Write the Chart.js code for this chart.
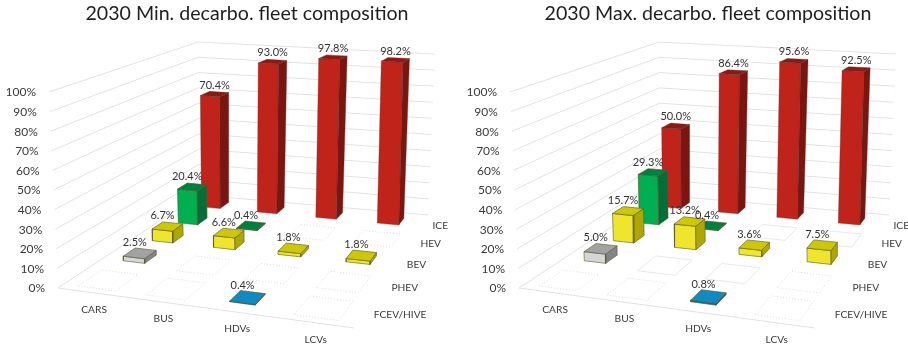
<!DOCTYPE html>
<html>
<head>
<meta charset="utf-8">
<script src="https://cdn.jsdelivr.net/npm/chart.js@4"></script>
<style>
  body { margin: 0; background: #fff; }
  canvas { position: absolute; top: 0; }
</style>
</head>
<body>
<canvas id="minChart" width="461" height="344" style="left:0"></canvas>
<canvas id="maxChart" width="447" height="344" style="left:461px"></canvas>
<script>
const categories = ['CARS', 'BUS', 'HDVs', 'LCVs'];
const seriesNames = ['FCEV/HIVE', 'PHEV', 'BEV', 'HEV', 'ICE'];
const yTicks = [0, 10, 20, 30, 40, 50, 60, 70, 80, 90, 100];

const minFcev = [0, 0, 0.4, 0];
const minPhev = [2.5, 0, 0, 0];
const minBev = [6.7, 6.6, 1.8, 1.8];
const minHev = [20.4, 0.4, 0, 0];
const minIce = [70.4, 93.0, 97.8, 98.2];

const maxFcev = [0, 0, 0.8, 0];
const maxPhev = [5.0, 0, 0, 0];
const maxBev = [15.7, 13.2, 3.6, 7.5];
const maxHev = [29.3, 0.4, 0, 0];
const maxIce = [50.0, 86.4, 95.6, 92.5];

// front, side, top
const palette = [
  ['#0a6f9f', '#075a80', '#0f8bc4'],
  ['#d6d6d6', '#858585', '#a2a2a2'],
  ['#eee52c', '#aea700', '#cdc800'],
  ['#00b050', '#006f38', '#00803f'],
  ['#c0231a', '#7c150f', '#8c1a12']
];

// the view: where the floor and the 100% plane land (front-left, front-right, back-right, back-left)
const floorQuad = [[58, 288], [354, 328], [428, 215], [199, 195]];
const topQuad = [[49, 92], [342, 112], [435, 54], [198, 42]];

function quadMap(q) {
  const [[x0, y0], [x1, y1], [x2, y2], [x3, y3]] = q;
  const dx1 = x1 - x2, dx2 = x3 - x2, sx = x0 - x1 + x2 - x3;
  const dy1 = y1 - y2, dy2 = y3 - y2, sy = y0 - y1 + y2 - y3;
  const den = dx1 * dy2 - dx2 * dy1;
  const g = (sx * dy2 - dx2 * sy) / den;
  const h = (dx1 * sy - sx * dy1) / den;
  const a = x1 - x0 + g * x1, b = x3 - x0 + h * x3;
  const d = y1 - y0 + g * y1, e = y3 - y0 + h * y3;
  return (u, v) => {
    const w = g * u + h * v + 1;
    return [(a * u + b * v + x0) / w, (d * u + e * v + y0) / w];
  };
}

const floorAt = quadMap(floorQuad);
const topAt = quadMap(topQuad);

function project(u, v, value) {
  const p = floorAt(u, v), t = topAt(u, v);
  const k = value / 100;
  return { x: p[0] + (t[0] - p[0]) * k, y: p[1] + (t[1] - p[1]) * k };
}

function poly(points, opts) {
  return Object.assign({
    data: points.concat([points[0]]),
    showLine: true,
    pointRadius: 0,
    tension: 0,
    clip: false,
    borderWidth: 0.6
  }, opts);
}

const barW = 0.34, barD = 0.4;
const cellW = 0.56, cellD = 0.68;

function buildDatasets(rows, solidCells) {
  const out = [];
  const nc = categories.length, nr = seriesNames.length;

  // walls
  yTicks.forEach((t) => {
    out.push({
      data: [project(0, 0, t), project(0, 1, t), project(1, 1, t)],
      showLine: true, pointRadius: 0, clip: false, borderWidth: 1, borderColor: '#e2e2e2'
    });
  });
  out.push({
    data: [project(0, 0, 0), project(1, 0, 0)],
    showLine: true, pointRadius: 0, clip: false, borderWidth: 1, borderColor: '#e2e2e2'
  });

  // back row first so nearer bars cover it
  for (let r = nr - 1; r >= 0; r--) {
    for (let c = 0; c < nc; c++) {
      const val = rows[r][c];
      const cu = (c + 0.5) / nc, cv = (r + 0.5) / nr;
      if (val === 0) {
        const hu = cellW / nc / 2, hv = cellD / nr / 2;
        const solid = solidCells.some((s) => s[0] === c && s[1] === r);
        out.push(poly([
          project(cu - hu, cv - hv, 0), project(cu + hu, cv - hv, 0),
          project(cu + hu, cv + hv, 0), project(cu - hu, cv + hv, 0)
        ], {
          borderColor: solid ? '#e8e8e8' : '#dedede',
          borderDash: solid ? [] : [1, 2],
          borderWidth: 1
        }));
        continue;
      }
      const hu = barW / nc / 2, hv = barD / nr / 2;
      const u0 = cu - hu, u1 = cu + hu, v0 = cv - hv, v1 = cv + hv;
      const [front, side, top] = palette[r];
      const edge = r === 4 ? 'rgba(90,50,50,0.6)' : '#55552f';
      out.push(poly([project(u0, v0, 0), project(u1, v0, 0), project(u1, v0, val), project(u0, v0, val)],
        { fill: 'shape', backgroundColor: front, borderColor: edge }));
      out.push(poly([project(u1, v0, 0), project(u1, v1, 0), project(u1, v1, val), project(u1, v0, val)],
        { fill: 'shape', backgroundColor: side, borderColor: edge }));
      out.push(poly([project(u0, v0, val), project(u1, v0, val), project(u1, v1, val), project(u0, v1, val)],
        { fill: 'shape', backgroundColor: top, borderColor: edge }));
    }
  }
  return out.reverse(); // chart.js paints the last dataset first
}

const textPlugin = {
  id: 'textPlugin',
  afterDatasetsDraw(chart, args, opts) {
    const ctx = chart.ctx;
    const px = (p) => [chart.scales.x.getPixelForValue(p.x), chart.scales.y.getPixelForValue(p.y)];
    const nc = categories.length, nr = seriesNames.length;
    ctx.save();
    ctx.textBaseline = 'middle';
    ctx.fillStyle = '#3a3a3a';

    ctx.font = '12px Lato';
    ctx.textAlign = 'right';
    yTicks.forEach((t) => {
      const [x, y] = px(project(0, 0, t));
      ctx.fillText(t + '%', x - 13, y + 0.5);
    });

    ctx.font = '10.2px Lato';
    ctx.textAlign = 'center';
    categories.forEach((name, c) => {
      const [x, y] = px(project((c + 0.5) / nc, 0, 0));
      ctx.fillText(name, x + 3, y + 17);
    });

    ctx.textAlign = 'left';
    seriesNames.forEach((name, r) => {
      const [x, y] = px(project(1, (r + 0.5) / nr, 0));
      ctx.fillText(name, x + 10, y + 2);
    });

    ctx.font = '11px Lato';
    ctx.textAlign = 'center';
    ctx.fillStyle = '#333333';
    opts.rows.forEach((row, r) => {
      row.forEach((val, c) => {
        if (val === 0) return;
        const cu = (c + 0.5) / nc, cv = (r + 0.5) / nr;
        const x = px(project(cu, cv, val))[0];
        const y = px(project(cu, cv + barD / nr / 2, val))[1];
        ctx.fillText(val.toFixed(1) + '%', x - (r === 4 ? 0 : 5), y - 7);
      });
    });
    ctx.restore();
  }
};

function makeChart(id, title, rows, solidCells, padLeft) {
  const canvas = document.getElementById(id);
  return new Chart(canvas, {
    type: 'scatter',
    data: { datasets: buildDatasets(rows, solidCells) },
    plugins: [textPlugin],
    options: {
      responsive: false,
      animation: false,
      events: [],
      layout: { padding: { left: padLeft } },
      scales: {
        x: { type: 'linear', display: false, min: padLeft, max: canvas.width },
        y: { type: 'linear', display: false, min: 26, max: canvas.height, reverse: true }
      },
      plugins: {
        legend: { display: false },
        tooltip: { enabled: false },
        title: {
          display: true,
          text: title,
          color: '#1f1f1f',
          font: { family: 'Lato', size: 19.6, weight: 'normal', lineHeight: 24 / 19.6 },
          padding: { top: 2, bottom: 0 }
        },
        textPlugin: { rows }
      }
    }
  });
}

makeChart('minChart', '2030 Min. decarbo. fleet composition',
  [minFcev, minPhev, minBev, minHev, minIce], [], 33);
makeChart('maxChart', '2030 Max. decarbo. fleet composition',
  [maxFcev, maxPhev, maxBev, maxHev, maxIce], [[1, 1], [2, 3], [2, 1], [3, 3]], 47);
</script>
</body>
</html>
